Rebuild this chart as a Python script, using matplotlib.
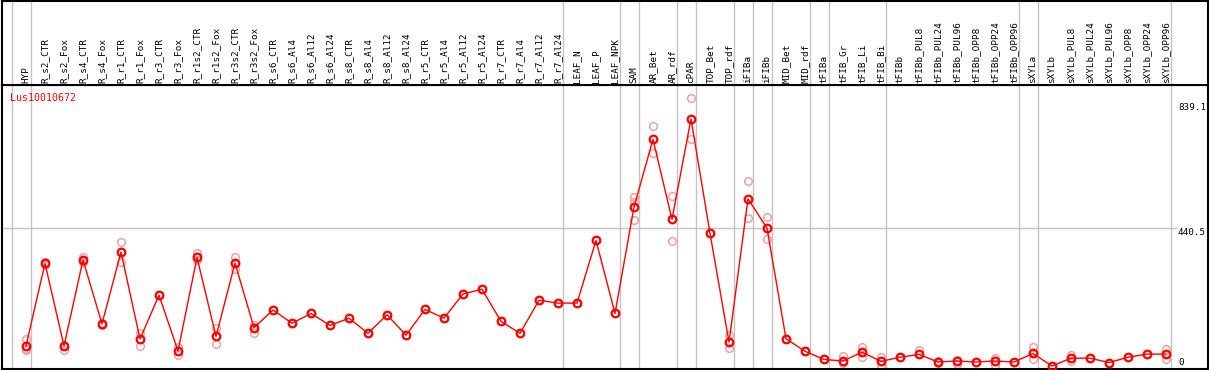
import numpy as np
import matplotlib
matplotlib.use('Agg')
import matplotlib.pyplot as plt

# Sample names (columns of the header)
samples = ['HYP', 'R_s2_CTR', 'R_s2_Fox', 'R_s4_CTR', 'R_s4_Fox', 'R_r1_CTR', 'R_r1_Fox',
           'R_r3_CTR', 'R_r3_Fox', 'R_r1s2_CTR', 'R_r1s2_Fox', 'R_r3s2_CTR', 'R_r3s2_Fox',
           'R_s6_CTR', 'R_s6_Al4', 'R_s6_Al12', 'R_s6_Al24', 'R_s8_CTR', 'R_s8_Al4',
           'R_s8_Al12', 'R_s8_Al24', 'R_r5_CTR', 'R_r5_Al4', 'R_r5_Al12', 'R_r5_Al24',
           'R_r7_CTR', 'R_r7_Al4', 'R_r7_Al12', 'R_r7_Al24', 'LEAF_N', 'LEAF_P', 'LEAF_NPK',
           'SAM', 'AR_Bet', 'AR_rdf', 'cPAR', 'TOP_Bet', 'TOP_rdf', 'iFIBa', 'iFIBb',
           'MID_Bet', 'MID_rdf', 'tFIBa', 'tFIB_Gr', 'tFIB_Li', 'tFIB_Bi', 'tFIBb',
           'tFIBb_PUL8', 'tFIBb_PUL24', 'tFIBb_PUL96', 'tFIBb_OPP8', 'tFIBb_OPP24',
           'tFIBb_OPP96', 'sXYLa', 'sXYLb', 'sXYLb_PUL8', 'sXYLb_PUL24', 'sXYLb_PUL96',
           'sXYLb_OPP8', 'sXYLb_OPP24', 'sXYLb_OPP96']

# Mean expression
mean_vals = [67, 329, 67, 340, 137, 365, 89, 228, 51, 348, 97, 330, 125,
             181, 139, 170, 132, 155, 107, 166, 101, 183, 155, 232, 247,
             145, 107, 212, 203, 203, 402, 170,
             508, 723, 469, 788, 425, 79, 534, 441, 90, 50, 24,
             19, 47, 18, 31, 40, 16, 19, 16, 19, 16,
             43, 3, 28, 28, 14, 31, 41, 41]

# Replicates (light circles)
rep_a = [88, 334, 69, 348, 139, 396, 107, 228, 64, 363, 123, 348, 133,
         181, 139, 170, 132, 155, 107, 166, 101, 183, 155, 232, 247,
         145, 107, 212, 203, 203, 402, 170,
         540, 764, 542, 853, 425, 101, 591, 476, 90, 50, 24,
         35, 63, 31, 31, 54, 20, 21, 16, 30, 16,
         65, 3, 38, 28, 14, 31, 41, 56]
rep_b = [54, 324, 54, 334, 133, 334, 67, 228, 38, 340, 72, 310, 109,
         181, 139, 170, 132, 155, 107, 166, 101, 183, 155, 232, 247,
         145, 107, 212, 203, 203, 402, 170,
         467, 679, 399, 723, 425, 59, 472, 405, 90, 50, 24,
         12, 33, 5, 31, 40, 12, 10, 16, 6, 16,
         24, 3, 20, 28, 14, 31, 41, 24]
rep_c = [56, 329, 67, 340, 137, 365, 89, 228, 51, 348, 97, 330, 125,
         181, 139, 170, 132, 155, 107, 166, 101, 183, 155, 232, 247,
         145, 107, 212, 203, 203, 402, 170,
         523, 723, 469, 788, 425, 79, 534, 441, 90, 50, 24,
         19, 47, 18, 31, 40, 16, 19, 16, 19, 16,
         43, 3, 28, 28, 14, 31, 41, 41]

# Group separators (after these sample indices)
separators = [-1, 0, 28, 31, 32, 34, 35, 37, 38, 39, 41, 42, 45, 52, 53, 60]
ytick_vals = [839.1, 440.5, 0]
gene = 'Lus10010672'

W, H = 1209, 370
fig = plt.figure(figsize=(W / 100, H / 100), dpi=100)
x = np.arange(len(samples))
xlim = ((1.5 - 26) / 19, (1207.5 - 26) / 19)

# Plot area
ax = fig.add_axes([1.5 / W, 1 / H, 1206 / W, 284 / H])
ax.set_xlim(*xlim)
ax.set_ylim(-6.35, 895.6)
ax.set_xticks([])
ax.set_yticks([])
for s in ax.spines.values():
    s.set_color('black')
    s.set_linewidth(1.5)

for b in separators:
    ax.axvline(b + 0.25, color='#c4c4c4', lw=1, zorder=1)
ax.hlines(440.5, xlim[0], 60.6, color='#c4c4c4', lw=1, zorder=1)

for reps in (rep_a, rep_b, rep_c):
    ax.plot(x, reps, 'o', mfc='none', mec='#f09a9a', ms=5.5, mew=1, zorder=2)
ax.plot(x, mean_vals, '-', color='red', lw=1, zorder=3)
ax.plot(x, mean_vals, 'o', mfc='none', mec='red', ms=5.5, mew=1.6, zorder=4)

for v in ytick_vals:
    ax.text(60.63, v, f'{v:g}', va='bottom' if v == 0 else 'top', ha='left',
            family='DejaVu Sans Mono', fontsize=6.7, color='black')

ax.text(8.5 / 1206, 1 - 8 / 284, gene, transform=ax.transAxes, color='red',
        family='DejaVu Sans Mono', fontsize=7.1, va='top', ha='left')

# Header with sample names
hx = fig.add_axes([1.5 / W, 285 / H, 1206 / W, 84.5 / H])
hx.set_xlim(*xlim)
hx.set_ylim(0, 85)
hx.set_xticks([])
hx.set_yticks([])
for s in hx.spines.values():
    s.set_color('black')
    s.set_linewidth(1.5)
for b in separators:
    hx.axvline(b + 0.25, color='#c4c4c4', lw=1, zorder=1)
for i, name in enumerate(samples):
    hx.text(i, 2, name, rotation=90, ha='center', va='bottom',
            family='DejaVu Sans Mono', fontsize=6.7, zorder=2)

plt.savefig('out.png', dpi=100)
